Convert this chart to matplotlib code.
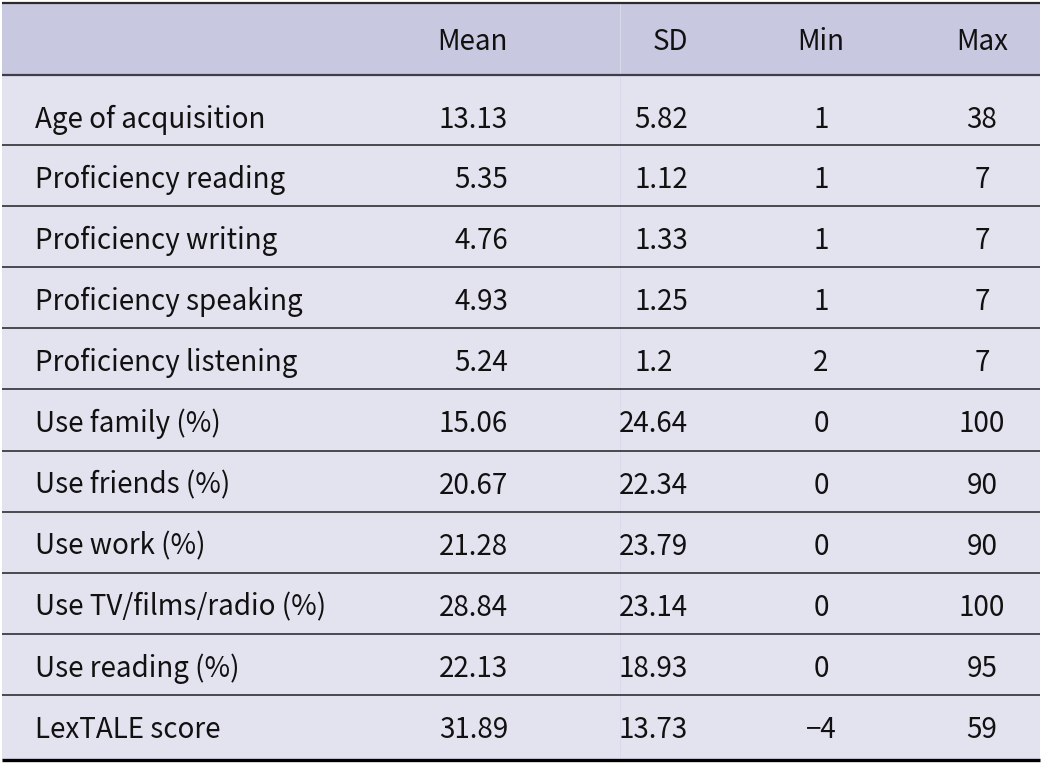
import matplotlib
matplotlib.use("Agg")
import matplotlib.pyplot as plt

# table content
labels = ["Age of acquisition", "Proficiency reading", "Proficiency writing",
          "Proficiency speaking", "Proficiency listening", "Use family (%)",
          "Use friends (%)", "Use work (%)", "Use TV/films/radio (%)",
          "Use reading (%)", "LexTALE score"]
means = [13.13, 5.35, 4.76, 4.93, 5.24, 15.06, 20.67, 21.28, 28.84, 22.13, 31.89]
sds = [5.82, 1.12, 1.33, 1.25, 1.2, 24.64, 22.34, 23.79, 23.14, 18.93, 13.73]
mins = [1, 1, 1, 1, 2, 0, 0, 0, 0, 0, -4]
maxs = [38, 7, 7, 7, 7, 100, 90, 90, 100, 95, 59]
headers = ["Mean", "SD", "Min", "Max"]

W, H = 1042, 763
header_bg = "#c8c8e1"
body_bg = "#e3e3f0"
fs = 20


def fmt_dec(v):
	# returns text and whether a trailing digit slot is empty
	s = f"{v:.2f}"
	if s.endswith("0") and not s.endswith(".00"):
		return s[:-1], True
	return s, False


def fmt_int(v):
	return str(v).replace("-", "\u2212")


def main():
	plt.rcParams['font.family'] = ['Noto Sans CJK SC', 'DejaVu Sans']
	fig = plt.figure(figsize=(W / 100, H / 100), dpi=100)
	ax = fig.add_axes([0, 0, 1, 1])
	ax.set_xlim(0, W)
	ax.set_ylim(H, 0)
	ax.axis("off")

	left, right = 2, 1040
	top, head_bot, bottom = 3, 75, 760
	first_sep = 145
	step = (695 - first_sep) / 9

	ax.add_patch(plt.Rectangle((left, top), right - left, head_bot - top, color=header_bg, lw=0))
	ax.add_patch(plt.Rectangle((left, head_bot), right - left, bottom - head_bot, color=body_bg, lw=0))
	ax.plot([620, 620], [top, bottom], color="#dadaec", lw=0.7)

	ax.plot([left, right], [top, top], color="#2a2a2a", lw=1.6, solid_capstyle="butt")
	ax.plot([left, right], [head_bot, head_bot], color="#3c3c4a", lw=1.6, solid_capstyle="butt")
	for i in range(10):
		y = first_sep + step * i
		ax.plot([left, right], [y, y], color="#1e1e24", lw=1.1, solid_capstyle="butt")
	ax.plot([left, right], [bottom, bottom], color="black", lw=2.4, solid_capstyle="butt")

	# width of one digit, for lining up decimal points
	probe = ax.text(0, 0, "0", fontsize=fs)
	fig.canvas.draw()
	digit_w = probe.get_window_extent().width
	probe.remove()

	xs = [(508, "right"), (688, "right"), (821, "center"), (982, "center")]
	for (x, ha), h in zip(xs, headers):
		ax.text(x, 50, h, ha=ha, va="baseline", fontsize=fs, color="#111111")

	for i, lab in enumerate(labels):
		if i == 0:
			base = 128
		else:
			base = first_sep + step * (i - 1) + 43
		ax.text(35, base, lab, ha="left", va="baseline", fontsize=fs, color="#111111")
		for (x, ha), v in zip(xs[:2], [means[i], sds[i]]):
			s, short = fmt_dec(v)
			ax.text(x - (digit_w if short else 0), base, s, ha=ha, va="baseline",
			        fontsize=fs, color="#111111")
		for (x, ha), v in zip(xs[2:], [mins[i], maxs[i]]):
			ax.text(x, base, fmt_int(v), ha=ha, va="baseline", fontsize=fs, color="#111111")

	fig.savefig("out.png", dpi=100, facecolor="white")


if __name__ == "__main__":
	main()
